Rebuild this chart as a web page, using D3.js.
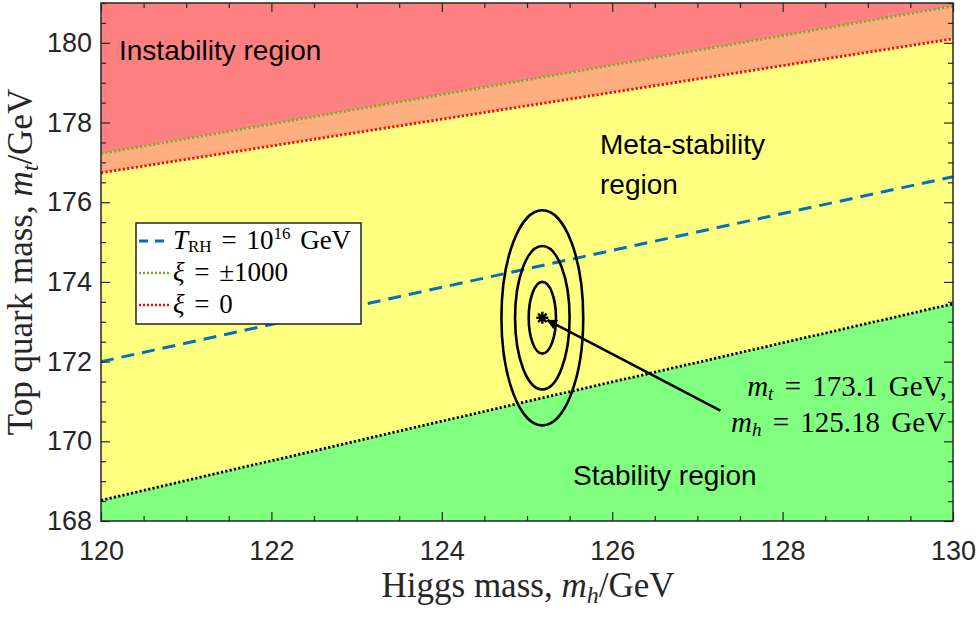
<!DOCTYPE html>
<html>
<head>
<meta charset="utf-8">
<script src="https://cdn.jsdelivr.net/npm/d3@7"></script>
<style>
  body { margin: 0; background: #fff; }
  .tick text { font-family: "Liberation Sans", Arial, sans-serif; font-size: 27px; fill: #262626; }
  .tick line { stroke: #262626; stroke-width: 1.2; }
  .domain { display: none; }
</style>
</head>
<body>
<div id="chart"></div>
<script>
const higgsMass = [120, 125, 130];
// Boundary lines: top mass (GeV) at each Higgs mass
const xiBigLine = [177.22, 179.07, 180.92];     // xi = +-1000 (instability edge)
const xiZeroLine = [176.74, 178.42, 180.10];    // xi = 0
const reheatLine = [172.0, 174.33, 176.64];     // T_RH = 1e16 GeV
const stabilityLine = [168.52, 171.0, 173.45];  // absolute stability edge

// measured point and its confidence ellipses
const centralPoint = [125.18, 173.1];
const sigmaMh = 0.16;
const sigmaMt = 0.9;
const sigmaLevels = [1, 2, 3];
const arrowFrom = [127.27, 170.77];
const arrowTo = [125.24, 173.04];

const xMajor = [120, 122, 124, 126, 128, 130];
const yMajor = [168, 170, 172, 174, 176, 178, 180];

const width = 980, height = 622;
const x = d3.scaleLinear().domain([120, 130]).range([101, 953]);
const y = d3.scaleLinear().domain([168, 181]).range([521, 3]);

const svg = d3.select("#chart").append("svg")
    .attr("width", width)
    .attr("height", height);

const rows = higgsMass.map((m, i) => ({
  mh: m, big: xiBigLine[i], zero: xiZeroLine[i], rh: reheatLine[i], stab: stabilityLine[i]
}));

const plot = svg.append("g");

// filled regions
const band = (lo, hi) => d3.area().x(d => x(d.mh)).y0(lo).y1(hi);
plot.append("path").datum(rows).attr("fill", "#ff8080")
    .attr("d", band(d => y(d.big), () => y(181)));
plot.append("path").datum(rows).attr("fill", "#ffae80")
    .attr("d", band(d => y(d.zero), d => y(d.big)));
plot.append("path").datum(rows).attr("fill", "#ffff80")
    .attr("d", band(d => y(d.stab), d => y(d.zero)));
plot.append("path").datum(rows).attr("fill", "#80ff80")
    .attr("d", band(() => y(168), d => y(d.stab)));

// boundary lines
const line = key => d3.line().x(d => x(d.mh)).y(d => y(d[key]));
plot.append("path").datum(rows).attr("fill", "none").attr("stroke", "#0072bd")
    .attr("stroke-width", 3).attr("stroke-dasharray", "13,8").attr("d", line("rh"));
plot.append("path").datum(rows).attr("fill", "none").attr("stroke", "#000")
    .attr("stroke-width", 2.8).attr("stroke-dasharray", "2.2,2.2").attr("d", line("stab"));
plot.append("path").datum(rows).attr("fill", "none").attr("stroke", "#77ac30")
    .attr("stroke-width", 2.8).attr("stroke-dasharray", "2.2,2.2").attr("d", line("big"));
plot.append("path").datum(rows).attr("fill", "none").attr("stroke", "#ff0000")
    .attr("stroke-width", 2.8).attr("stroke-dasharray", "2.2,2.2").attr("d", line("zero"));

// confidence ellipses
plot.selectAll(".ell").data(sigmaLevels).enter().append("ellipse")
    .attr("cx", x(centralPoint[0]))
    .attr("cy", y(centralPoint[1]))
    .attr("rx", k => x(centralPoint[0] + k * sigmaMh) - x(centralPoint[0]))
    .attr("ry", k => y(centralPoint[1]) - y(centralPoint[1] + k * sigmaMt))
    .attr("fill", "none").attr("stroke", "#000").attr("stroke-width", 2.6);

// asterisk marker
const cx = x(centralPoint[0]), cy = y(centralPoint[1]);
const r = 6;
const star = d3.path();
[0, 45, 90, 135].forEach(a => {
  const t = a * Math.PI / 180;
  star.moveTo(cx - r * Math.cos(t), cy - r * Math.sin(t));
  star.lineTo(cx + r * Math.cos(t), cy + r * Math.sin(t));
});
plot.append("path").attr("d", star.toString()).attr("stroke", "#000").attr("stroke-width", 2.4);

// arrow
svg.append("defs").append("marker")
    .attr("id", "head").attr("viewBox", "0 0 10 10").attr("refX", 9).attr("refY", 5)
    .attr("markerWidth", 4).attr("markerHeight", 4).attr("orient", "auto")
    .append("path").attr("d", "M0,0L10,5L0,10z").attr("fill", "#000");
plot.append("line")
    .attr("x1", x(arrowFrom[0])).attr("y1", y(arrowFrom[1]))
    .attr("x2", x(arrowTo[0])).attr("y2", y(arrowTo[1]))
    .attr("stroke", "#000").attr("stroke-width", 2.6).attr("marker-end", "url(#head)");

// axes with inward ticks on all four sides
const minor = d3.range(120, 130.01, 0.5).filter(v => !xMajor.includes(v));
const minorY = d3.range(168, 181.01, 0.5).filter(v => !yMajor.includes(v));

svg.append("g").attr("transform", "translate(0,521)")
    .call(d3.axisBottom(x).tickValues(xMajor).tickSize(-9).tickPadding(20).tickFormat(d3.format("d")));
svg.append("g").attr("transform", "translate(0,521)")
    .call(d3.axisBottom(x).tickValues(minor).tickSize(-5).tickFormat(""));
svg.append("g").attr("transform", "translate(0,3)")
    .call(d3.axisTop(x).tickValues(xMajor).tickSize(-9).tickFormat(""));
svg.append("g").attr("transform", "translate(0,3)")
    .call(d3.axisTop(x).tickValues(minor).tickSize(-5).tickFormat(""));
svg.append("g").attr("transform", "translate(101,0)")
    .call(d3.axisLeft(y).tickValues(yMajor).tickSize(-9).tickPadding(9).tickFormat(d3.format("d")));
svg.append("g").attr("transform", "translate(101,0)")
    .call(d3.axisLeft(y).tickValues(minorY).tickSize(-5).tickFormat(""));
svg.append("g").attr("transform", "translate(953,0)")
    .call(d3.axisRight(y).tickValues(yMajor).tickSize(-9).tickFormat(""));
svg.append("g").attr("transform", "translate(953,0)")
    .call(d3.axisRight(y).tickValues(minorY).tickSize(-5).tickFormat(""));

svg.append("rect").attr("x", 101).attr("y", 3).attr("width", 852).attr("height", 518)
    .attr("fill", "none").attr("stroke", "#262626").attr("stroke-width", 1.5);

// region labels
const sans = "'Liberation Sans', Arial, sans-serif";
const serif = "'Liberation Serif', 'Times New Roman', serif";
const label = (tx, ty, s) => svg.append("text").attr("x", tx).attr("y", ty)
    .attr("font-family", sans).attr("font-size", 28).attr("fill", "#000").text(s);
label(119, 60, "Instability region");
label(600, 154, "Meta-stability");
label(600, 194, "region");
label(573, 485, "Stability region");

// annotation
const ann1 = svg.append("text").attr("x", 947).attr("y", 396).attr("text-anchor", "end")
    .attr("font-family", serif).attr("font-size", 29).attr("word-spacing", 4);
ann1.append("tspan").attr("font-style", "italic").text("m");
ann1.append("tspan").attr("font-style", "italic").attr("font-size", 19).attr("dy", 4).text("t");
ann1.append("tspan").attr("dy", -4).text(" = 173.1 GeV,");
const ann2 = svg.append("text").attr("x", 946).attr("y", 432).attr("text-anchor", "end")
    .attr("font-family", serif).attr("font-size", 29).attr("word-spacing", 4);
ann2.append("tspan").attr("font-style", "italic").text("m");
ann2.append("tspan").attr("font-style", "italic").attr("font-size", 19).attr("dy", 4).text("h");
ann2.append("tspan").attr("dy", -4).text(" = 125.18 GeV");

// axis titles
const xt = svg.append("text").attr("x", 528).attr("y", 597).attr("text-anchor", "middle")
    .attr("font-family", serif).attr("font-size", 35).attr("fill", "#262626");
xt.append("tspan").text("Higgs mass, ");
xt.append("tspan").attr("font-style", "italic").text("m");
xt.append("tspan").attr("font-style", "italic").attr("font-size", 24).attr("dy", 6).text("h");
xt.append("tspan").attr("dy", -6).text("/GeV");

const yt = svg.append("text").attr("transform", "translate(32,262) rotate(-90)")
    .attr("text-anchor", "middle")
    .attr("font-family", serif).attr("font-size", 35).attr("fill", "#262626");
yt.append("tspan").text("Top quark mass, ");
yt.append("tspan").attr("font-style", "italic").text("m");
yt.append("tspan").attr("font-style", "italic").attr("font-size", 24).attr("dy", 6).text("t");
yt.append("tspan").attr("dy", -6).text("/GeV");

// legend
const leg = svg.append("g");
leg.append("rect").attr("x", 136).attr("y", 223).attr("width", 225).attr("height", 101)
    .attr("fill", "#fff").attr("stroke", "#262626").attr("stroke-width", 1.5);
const legendItems = [
  { color: "#0072bd", dash: "9,7", width: 3 },
  { color: "#77ac30", dash: "2,2", width: 2.6 },
  { color: "#ff0000", dash: "2,2", width: 2.6 }
];
leg.selectAll(".ls").data(legendItems).enter().append("line")
    .attr("x1", 139).attr("x2", 170)
    .attr("y1", (d, i) => 241 + i * 32).attr("y2", (d, i) => 241 + i * 32)
    .attr("stroke", d => d.color).attr("stroke-width", d => d.width)
    .attr("stroke-dasharray", d => d.dash);

const l1 = leg.append("text").attr("x", 173).attr("y", 249).attr("font-family", serif)
    .attr("font-size", 27).attr("word-spacing", 3);
l1.append("tspan").attr("font-style", "italic").text("T");
l1.append("tspan").attr("font-size", 17).attr("dy", 3).text("RH");
l1.append("tspan").attr("dy", -3).text(" = 10");
l1.append("tspan").attr("font-size", 17).attr("dy", -10).text("16");
l1.append("tspan").attr("dy", 10).text(" GeV");
const l2 = leg.append("text").attr("x", 173).attr("y", 281).attr("font-family", serif)
    .attr("font-size", 27).attr("word-spacing", 3);
l2.append("tspan").attr("font-style", "italic").text("ξ");
l2.append("tspan").text(" = ±1000");
const l3 = leg.append("text").attr("x", 173).attr("y", 313).attr("font-family", serif)
    .attr("font-size", 27).attr("word-spacing", 3);
l3.append("tspan").attr("font-style", "italic").text("ξ");
l3.append("tspan").text(" = 0");
</script>
</body>
</html>
